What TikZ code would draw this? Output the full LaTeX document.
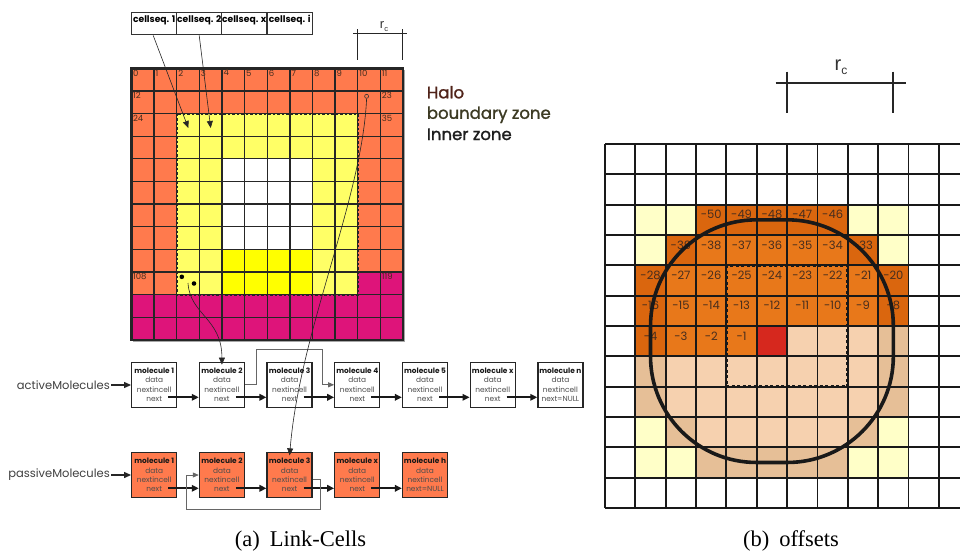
\documentclass[tikz,border=0pt]{standalone}
\usepackage{fontspec}
\setmainfont{Liberation Serif}
\newfontfamily\gothic{Poppins}
\newfontfamily\gothicB[FakeBold=1.3]{Poppins}
\newfontfamily\arialf{Liberation Sans}
\usetikzlibrary{arrows.meta}
\definecolor{halo}{RGB}{255,122,77}
\definecolor{mag}{RGB}{222,20,122}
\definecolor{ylw}{RGB}{255,255,102}
\definecolor{byl}{RGB}{255,255,0}
\definecolor{numc}{RGB}{70,45,30}
\definecolor{cLY}{RGB}{255,255,200}
\definecolor{cDO}{RGB}{218,102,14}
\definecolor{cMO}{RGB}{232,120,26}
\definecolor{cRD}{RGB}{214,40,30}
\definecolor{cLP}{RGB}{246,209,175}
\definecolor{cDP}{RGB}{230,191,151}
\definecolor{haloc}{RGB}{80,35,25}
\definecolor{bzc}{RGB}{60,58,35}
\definecolor{izc}{RGB}{30,30,30}
\newcommand\mtxt[2]{{\bfseries\color{black!90}molecule #1}\\data\\nextincell\\#2}
\tikzset{
  lgrid/.style={line width=1.3pt, draw=black!85},
  rgrid/.style={line width=1.9pt, draw=black!90},
  mol/.style={draw=black!85, line width=1.3pt, minimum width=45pt, minimum height=45pt,
    inner sep=0pt, align=center, text=black!70, font=\gothic\fontsize{7.4}{9.3}\selectfont},
  pmol/.style={mol, fill=halo},
  seqbox/.style={draw=black!80, line width=1pt, minimum width=45pt, minimum height=22.7pt,
    inner sep=0pt, text height=5.5pt, text depth=7pt, font=\gothic\bfseries\fontsize{9.2}{9.5}\selectfont},
  nextarr/.style={line width=1.9pt, draw=black!90, -{Triangle[length=7pt,width=6.5pt]}},
  linkarr/.style={line width=0.7pt, draw=black!60, -{Triangle[length=6pt,width=5pt]}},
  ptrarr/.style={line width=0.6pt, draw=black!85, -{Triangle[length=7pt,width=6pt]}},
  listarr/.style={line width=1.2pt, draw=black!85, -{Triangle[length=7pt,width=6pt]}},
  cellnum/.style={font=\gothic\fontsize{8.5}{8.5}\selectfont, text=numc, inner sep=1.4pt, anchor=north west},
  offnum/.style={font=\gothic\fontsize{11.5}{11.5}\selectfont, text=numc, inner sep=0pt},
  listlab/.style={font=\gothic\fontsize{11.5}{12}\selectfont, text=black!75, inner sep=1pt},
  zonelab/.style={font=\gothicB\fontsize{16.5}{16.5}\selectfont, inner sep=0pt, anchor=base west},
  caplab/.style={font=\fontsize{22.5}{22.5}\selectfont, inner sep=0pt, anchor=base},
}
\begin{document}
\begin{tikzpicture}[x=1pt, y=-1pt]
\useasboundingbox (0,0) rectangle (960,552);
\fill[white] (0,0) rectangle (960,552);
\clip (0,0) rectangle (960,552);

% ---------------- left grid ----------------
\begin{scope}[shift={(131.5,68.3)}, x=22.625pt, y=-22.625pt]
  \fill[black!35] (0.08,0.08) rectangle (12.08,12.08);
  \fill[halo] (0,0) rectangle (12,12);
  \fill[mag] (0,10) rectangle (12,12);
  \fill[mag] (10,9) rectangle (12,10);
  \fill[ylw] (2,2) rectangle (10,10);
  \fill[white] (4,4) rectangle (8,8);
  \fill[byl] (4,8) rectangle (8,10);
  \foreach \i in {1,...,11} {
    \draw[lgrid] (\i,0) -- (\i,12);
    \draw[lgrid] (0,\i) -- (12,\i);
  }
  \draw[line width=2.4pt, black!85] (0,0) rectangle (12,12);
  \draw[line width=2pt, dash pattern=on 2.5pt off 2pt, black!85] (2,2) rectangle (10,10);
  \foreach \c in {0,...,11} \node[cellnum] (ln\c) at (\c,0) {\c};
  \node[cellnum] (ln12) at (0,1) {12};
  \node[cellnum] (ln23) at (11,1) {23};
  \node[cellnum] (ln24) at (0,2) {24};
  \node[cellnum] (ln35) at (11,2) {35};
  \node[cellnum] (ln108) at (0,9) {108};
  \node[cellnum] (ln119) at (11,9) {119};
\end{scope}

% markers inside left grid
\node[circle, draw=black!80, line width=0.6pt, minimum size=4pt, inner sep=0pt] (hc) at (366.6,96.3) {};
\node[circle, fill=black, minimum size=4.6pt, inner sep=0pt] (dot1) at (181.8,276.8) {};
\node[circle, fill=black, minimum size=4.6pt, inner sep=0pt] (dot2) at (194,283.5) {};

% cell sequence boxes
\node[seqbox] (cs1) at (154.2,23.6) {cellseq. 1};
\node[seqbox] (cs2) at (199.2,23.6) {cellseq. 2};
\node[seqbox] (cs3) at (244.2,23.6) {cellseq. x};
\node[seqbox] (cs4) at (289.7,23.6) {cellseq. i};

% r_c marker (left)
\draw[line width=1.3pt, black!85] (353,33.3) -- (407,33.3);
\draw[line width=1.3pt, black!85] (357.75,29) -- (357.75,60);
\draw[line width=1.3pt, black!85] (402.75,29) -- (402.75,60);
\node[inner sep=0pt, text=black!80] (rcl) at (384,26.5) {\arialf\fontsize{13}{13}\selectfont r\raisebox{-2.5pt}{\fontsize{7.5}{7.5}\selectfont c}};

% zone labels
\node[zonelab, text=haloc] (zhalo) at (426.7,98.3) {Halo};
\node[zonelab, text=bzc] (zbound) at (426.7,118.8) {boundary zone};
\node[zonelab, text=izc] (zinner) at (426.7,140) {Inner zone};

% ---------------- molecule lists ----------------
\node[mol] (am1) at (154.2,384.8) {\mtxt{1}{next}};
\node[mol] (am2) at (221.9,384.8) {\mtxt{2}{next}};
\node[mol] (am3) at (289.6,384.8) {\mtxt{3}{next}};
\node[mol] (am4) at (357.3,384.8) {\mtxt{4}{next}};
\node[mol] (am5) at (425.0,384.8) {\mtxt{5}{next}};
\node[mol] (amx) at (492.7,384.8) {\mtxt{x}{next}};
\node[mol] (amn) at (560.4,384.8) {\mtxt{n}{next=NULL}};

\node[pmol] (pm1) at (154.2,475) {\mtxt{1}{next}};
\node[pmol] (pm2) at (221.9,475) {\mtxt{2}{next}};
\node[pmol] (pm3) at (289.6,475) {\mtxt{3}{next}};
\node[pmol] (pmx) at (357.3,475) {\mtxt{x}{next}};
\node[pmol] (pmh) at (425.0,475) {\mtxt{h}{next=NULL}};

\foreach \a/\b in {am1/am2,am2/am3,am3/am4,am4/am5,am5/amx,amx/amn}
  \draw[nextarr] ([xshift=14pt,yshift=-12.5pt]\a.center) -- ([yshift=-12.5pt]\b.west);
\foreach \a/\b in {pm1/pm2,pm2/pm3,pm3/pmx,pmx/pmh}
  \draw[nextarr] ([xshift=14pt,yshift=-13.3pt]\a.center) -- ([yshift=-13.3pt]\b.west);

% nextincell links
\draw[linkarr] (am2.east) -- ++(11.7,0) -- ++(0,-35) -- ++(66,0) -- ++(0,35) -- (am4.west);
\draw[linkarr] ([yshift=-4.3pt]pm3.east) -- ++(8,0) -- ++(0,30) -- ++(-134,0) -- ++(0,-34.3) -- (pm2.west);

% list heads
\node[listlab, anchor=east] (alab) at (111,385) {activeMolecules};
\node[listlab, anchor=east] (plab) at (111,475) {passiveMolecules};
\draw[listarr] (alab.east) -- (alab.east -| am1.west);
\draw[listarr] (plab.east) -- (plab.east -| pm1.west);

% pointers from cell sequence and cells
\coordinate (t1) at (188.3,128);
\coordinate (t2) at (210.7,128);
\draw[ptrarr] ([xshift=-1pt]cs1.south) -- (t1);
\draw[ptrarr] (cs2.south) -- (t2);
\coordinate (s4) at (188,283);
\draw[ptrarr] (s4) .. controls (190,315) and (222,318) .. ([yshift=-3pt]am2.north);
\draw[ptrarr] (hc.south) .. controls (362,200) and (300,330) .. ([yshift=-3.5pt]pm3.north);

% ---------------- right grid ----------------
\begin{scope}[shift={(605,144)}, x=30.35pt, y=-30.33pt]
  \foreach \r/\a/\b/\col in {2/1/2/cLY, 2/3/7/cDO, 2/8/9/cLY,
      3/1/1/cLY, 3/2/2/cDO, 3/3/7/cMO, 3/8/8/cDO, 3/9/9/cLY,
      4/1/1/cDO, 4/2/8/cMO, 4/9/9/cDO,
      5/1/1/cDO, 5/2/8/cMO, 5/9/9/cDO,
      6/1/1/cDO, 6/2/4/cMO, 6/5/5/cRD, 6/6/8/cLP, 6/9/9/cDP,
      7/1/1/cDP, 7/2/8/cLP, 7/9/9/cDP,
      8/1/1/cDP, 8/2/8/cLP, 8/9/9/cDP,
      9/1/1/cLY, 9/2/2/cDP, 9/3/7/cLP, 9/8/8/cDP, 9/9/9/cLY,
      10/1/2/cLY, 10/3/7/cDP, 10/8/9/cLY}
    \fill[\col] (\a,\r) rectangle (\b+1,\r+1);
  \foreach \i in {0,...,12} {
    \draw[rgrid] (\i,0) -- (\i,12);
    \draw[rgrid] (0,\i) -- (12,\i);
  }
  \foreach \r/\a/\b in {2/3/7, 3/2/8, 4/1/9, 5/1/9, 6/1/4}
    \foreach \c in {\a,...,\b} {
      \pgfmathtruncatemacro\off{(\r-6)*12+\c-5}
      \node[offnum] (o\r x\c) at (\c+0.5,\r+0.33) {\off};
    }
  \draw[line width=3.6pt, black!90, rounded corners=106pt] (1.5,2.5) rectangle (9.5,10.5);
  \draw[line width=2.8pt, black!90, dash pattern=on 3pt off 2.5pt] (4,4) rectangle (8,8);
\end{scope}

% r_c marker (right)
\draw[line width=1.8pt, black!85] (775.7,83.3) -- (905.7,83.3);
\draw[line width=1.8pt, black!85] (787.1,71.7) -- (787.1,113.3);
\draw[line width=1.8pt, black!85] (893.3,71.7) -- (893.3,113.3);
\node[inner sep=0pt, text=black!80] (rcr) at (841,67) {\arialf\fontsize{20}{20}\selectfont r\raisebox{-4pt}{\fontsize{12}{12}\selectfont c}};

% captions
\node[caplab] (capa) at (300.5,546) {(a)\hspace{0.45em}Link-Cells};
\node[caplab] (capb) at (791,546) {(b)\hspace{0.45em}offsets};
\end{tikzpicture}
\end{document}
